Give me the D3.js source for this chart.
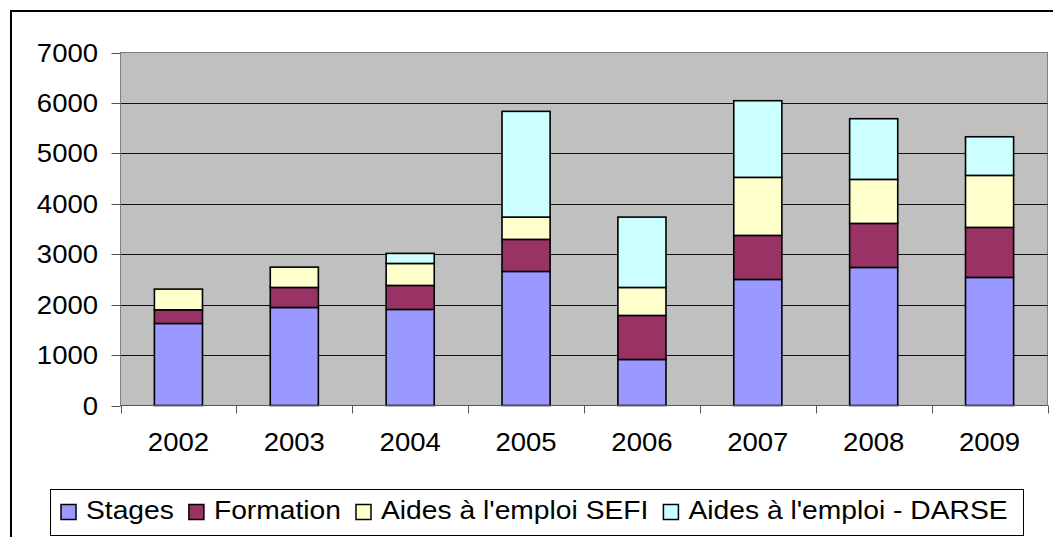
<!DOCTYPE html>
<html>
<head>
<meta charset="utf-8">
<script src="https://cdn.jsdelivr.net/npm/d3@7"></script>
<style>
  body { margin: 0; background: #fff; }
  text { font-family: "Liberation Sans", Arial, sans-serif; fill: #000; }
</style>
</head>
<body>
<div id="chart-area"></div>
<script>
// Data
var years = ["2002", "2003", "2004", "2005", "2006", "2007", "2008", "2009"];
var stages    = [1627, 1944, 1905, 2659, 913, 2500, 2738, 2540];
var formation = [270, 397, 476, 635, 873, 873, 873, 992];
var sefi      = [411, 403, 436, 442, 555, 1151, 873, 1031];
var darse     = [0, 0, 199, 2097, 1395, 1520, 1203, 766];
var seriesNames = ["Stages", "Formation", "Aides à l'emploi SEFI", "Aides à l'emploi - DARSE"];
var seriesColors = ["#9999FF", "#993366", "#FFFFCC", "#CCFFFF"];
var yTicks = [0, 1000, 2000, 3000, 4000, 5000, 6000, 7000];

var W = 1053, H = 537;
var plot = { left: 120.5, top: 52.5, right: 1047.5, bottom: 405.5 };
var fontSize = 25;

var svg = d3.select("#chart-area")
    .append("svg")
    .attr("width", W)
    .attr("height", H);

// outer chart frame (runs off the right/bottom edge)
svg.append("rect")
    .attr("x", 11).attr("y", 11)
    .attr("width", W + 20).attr("height", H + 20)
    .attr("fill", "#fff")
    .attr("stroke", "#000")
    .attr("stroke-width", 2);

// Scales
var x = d3.scaleBand()
    .domain(years)
    .range([plot.left, plot.right])
    .paddingInner(0.585)
    .paddingOuter(0.2925);
var y = d3.scaleLinear()
    .domain([0, 7000])
    .range([plot.bottom, plot.top]);

// text helper with a slight horizontal stretch
function label(parent, tx, ty, str, anchor, stretch) {
    return parent.append("text")
        .attr("transform", "translate(" + tx + "," + ty + ") scale(" + (stretch || 1.1) + ",1)")
        .attr("font-size", fontSize + "px")
        .attr("text-anchor", anchor || "start")
        .text(str);
}

// plot background
svg.append("rect")
    .attr("x", plot.left).attr("y", plot.top)
    .attr("width", plot.right - plot.left)
    .attr("height", plot.bottom - plot.top)
    .attr("fill", "#C0C0C0")
    .attr("stroke", "#808080")
    .attr("stroke-width", 1);

// gridlines
svg.append("g")
    .selectAll("line")
    .data(yTicks.filter(function(d){ return d > 0 && d < 7000; }))
    .enter().append("line")
    .attr("x1", plot.left).attr("x2", plot.right)
    .attr("y1", function(d){ return Math.round(y(d)) + 0.5; })
    .attr("y2", function(d){ return Math.round(y(d)) + 0.5; })
    .attr("stroke", "#111")
    .attr("stroke-width", 1);

// stacked bars
var table = years.map(function(yr, i){
    return { year: yr, s0: stages[i], s1: formation[i], s2: sefi[i], s3: darse[i] };
});
var stack = d3.stack().keys(["s0", "s1", "s2", "s3"]);
var layers = stack(table);

svg.append("g")
    .selectAll("g")
    .data(layers)
    .enter().append("g")
    .attr("fill", function(d, i){ return seriesColors[i]; })
    .selectAll("rect")
    .data(function(d){ return d.filter(function(p){ return p[1] - p[0] > 0; }); })
    .enter().append("rect")
    .attr("x", function(d){ return x(d.data.year); })
    .attr("width", x.bandwidth())
    .attr("y", function(d){ return y(d[1]); })
    .attr("height", function(d){ return y(d[0]) - y(d[1]); })
    .attr("stroke", "#000")
    .attr("stroke-width", 1.6);

// Y axis
var yAxis = svg.append("g")
    .attr("transform", "translate(" + plot.left + ",0)");
yAxis.append("line")
    .attr("y1", plot.top).attr("y2", plot.bottom)
    .attr("stroke", "#808080");
yAxis.selectAll(".tick")
    .data(yTicks)
    .enter().append("line")
    .attr("x1", -9).attr("x2", 0)
    .attr("y1", function(d){ return Math.round(y(d)) + 0.5; })
    .attr("y2", function(d){ return Math.round(y(d)) + 0.5; })
    .attr("stroke", "#555");
yTicks.forEach(function(d){
    label(svg, 98, y(d) + 9, d, "end");
});

// X axis
var xAxis = svg.append("g");
xAxis.append("line")
    .attr("x1", plot.left).attr("x2", plot.right)
    .attr("y1", plot.bottom).attr("y2", plot.bottom)
    .attr("stroke", "#555");
var bounds = years.map(function(yr){ return x(yr) - x.step() * x.paddingOuter(); });
bounds.push(plot.right);
xAxis.selectAll(".xtick")
    .data(bounds)
    .enter().append("line")
    .attr("x1", function(d){ return Math.round(d) + 0.5; })
    .attr("x2", function(d){ return Math.round(d) + 0.5; })
    .attr("y1", plot.bottom).attr("y2", plot.bottom + 8)
    .attr("stroke", "#555");
years.forEach(function(yr){
    label(svg, x(yr) + x.bandwidth() / 2, 451, yr, "middle");
});

// Legend
var legStretch = 1.13;
var legend = svg.append("g");
var legBox = legend.append("rect")
    .attr("x", 50.5).attr("y", 489.5)
    .attr("height", 46)
    .attr("fill", "#fff")
    .attr("stroke", "#000")
    .attr("stroke-width", 1);
var lx = 61, textEnd = 0;
seriesNames.forEach(function(name, i){
    legend.append("rect")
        .attr("x", lx).attr("y", 504.5)
        .attr("width", 15).attr("height", 15)
        .attr("fill", seriesColors[i])
        .attr("stroke", "#000")
        .attr("stroke-width", 1.5);
    var t = label(legend, lx + 25, 519, name, "start", legStretch);
    textEnd = lx + 25 + t.node().getComputedTextLength() * legStretch;
    lx = textEnd + 15;
});
legBox.attr("width", Math.round(textEnd + 15) - 50);
</script>
</body>
</html>
